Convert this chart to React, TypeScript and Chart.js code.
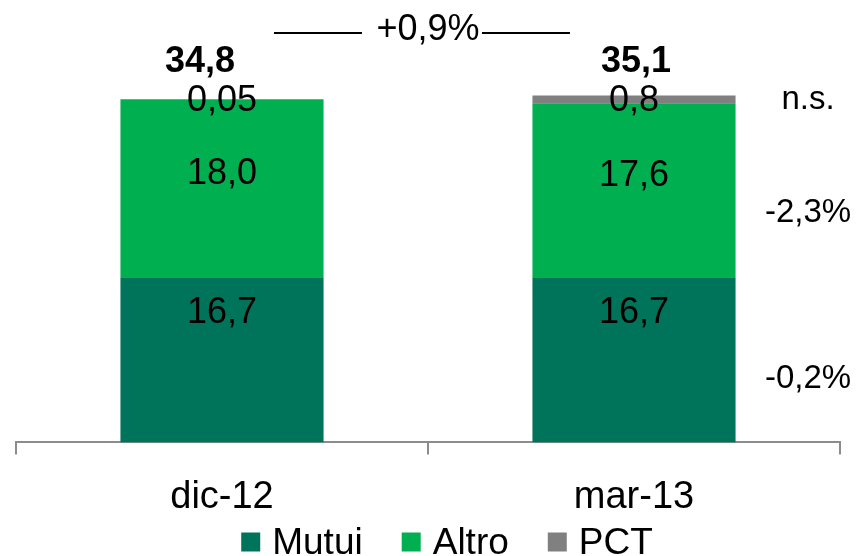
import React, { useEffect, useRef } from "react";
import { Chart, registerables } from "chart.js";

Chart.register(...registerables);

const categories = ["dic-12", "mar-13"];
const seriesNames = ["Mutui", "Altro", "PCT"];
const mutuiValues = [16.7, 16.7];
const altroValues = [18.0, 17.6];
const pctValues = [0.05, 0.8];
const totalLabels = ["34,8", "35,1"];
const changeLabels = ["-0,2%", "-2,3%", "n.s."];
const overallChange = "+0,9%";
const seriesColors = ["#00745A", "#00B050", "#808080"];

const FONT = "'Liberation Sans', Arial, sans-serif";
const valueOffsets = [-47, -14, 2];
const changeOffsets = [19, 23, 1];
const totalNudges = [-22, 2];

const fmt = (v: number) =>
  v.toLocaleString("it-IT", { minimumFractionDigits: 1, maximumFractionDigits: 2 });

const annotationPlugin = {
  id: "annotations",
  afterDatasetsDraw(chart: any) {
    const ctx = chart.ctx;
    const area = chart.chartArea;
    ctx.save();
    ctx.fillStyle = "#000";
    ctx.textAlign = "center";
    ctx.textBaseline = "middle";

    // segment values
    ctx.font = `36px ${FONT}`;
    chart.data.datasets.forEach((ds: any, di: number) => {
      const meta = chart.getDatasetMeta(di);
      meta.data.forEach((bar: any, i: number) => {
        const p = bar.getProps(["x", "y", "base"], true);
        const cy = (p.y + p.base) / 2 + valueOffsets[di];
        ctx.fillText(fmt(ds.data[i]), p.x, cy);
      });
    });

    // totals
    ctx.font = `bold 36px ${FONT}`;
    const firstMeta = chart.getDatasetMeta(0);
    firstMeta.data.forEach((bar: any, i: number) => {
      ctx.fillText(totalLabels[i], bar.x + totalNudges[i], area.top + 15);
    });

    // change labels at the right
    ctx.font = `33px ${FONT}`;
    const lastIndex = categories.length - 1;
    chart.data.datasets.forEach((_ds: any, di: number) => {
      const bar = chart.getDatasetMeta(di).data[lastIndex];
      const p = bar.getProps(["y", "base"], true);
      const cy = (p.y + p.base) / 2 + changeOffsets[di];
      ctx.fillText(changeLabels[di], area.right - 32, cy);
    });

    // overall change with lines
    ctx.font = `36px ${FONT}`;
    const b0 = firstMeta.data[0];
    const b1 = firstMeta.data[lastIndex];
    const cx = (b0.x + b1.x) / 2;
    const ty = area.top - 17;
    ctx.fillText(overallChange, cx, ty);
    ctx.strokeStyle = "#000";
    ctx.lineWidth = 2;
    ctx.beginPath();
    ctx.moveTo(cx - 154, ty + 3);
    ctx.lineTo(cx - 66, ty + 3);
    ctx.moveTo(cx + 54, ty + 3);
    ctx.lineTo(cx + 142, ty + 3);
    ctx.stroke();
    ctx.restore();
  },
  afterDraw(chart: any) {
    // legend
    const ctx = chart.ctx;
    ctx.save();
    ctx.font = `37px ${FONT}`;
    ctx.textBaseline = "middle";
    ctx.textAlign = "left";
    const box = 19;
    const gapText = 12;
    const gapItem = 39;
    const items = chart.data.datasets.map((ds: any) => ({
      label: ds.label,
      color: ds.backgroundColor,
      w: box + gapText + ctx.measureText(ds.label).width,
    }));
    const total = items.reduce((s: number, it: any) => s + it.w, 0) + gapItem * (items.length - 1);
    let x = chart.width / 2 - total / 2 + 17;
    const cy = 542;
    items.forEach((it: any) => {
      ctx.fillStyle = it.color;
      ctx.fillRect(x, cy - box / 2, box, box);
      ctx.fillStyle = "#000";
      ctx.fillText(it.label, x + box + gapText, cy + 2);
      x += it.w + gapItem;
    });
    ctx.restore();
  },
};

export default function App() {
  const ref = useRef<HTMLCanvasElement | null>(null);
  useEffect(() => {
    if (!ref.current) return;
    const chart = new Chart(ref.current, {
      type: "bar",
      data: {
        labels: categories,
        datasets: [
          { label: seriesNames[0], data: mutuiValues, backgroundColor: seriesColors[0] },
          { label: seriesNames[1], data: altroValues, backgroundColor: seriesColors[1] },
          { label: seriesNames[2], data: pctValues, backgroundColor: seriesColors[2] },
        ],
      },
      options: {
        animation: false,
        responsive: false,
        maintainAspectRatio: false,
        layout: { padding: { left: 16, right: 20, top: 47, bottom: 16 } },
        datasets: { bar: { barPercentage: 0.493, categoryPercentage: 1, borderWidth: 0 } },
        plugins: { legend: { display: false }, tooltip: { enabled: false } },
        scales: {
          x: {
            stacked: true,
            grid: {
              offset: true,
              drawOnChartArea: false,
              drawTicks: true,
              tickLength: 12,
              color: "#8C8C8C",
              lineWidth: 2,
            },
            border: { display: true, color: "#8C8C8C", width: 2 },
            ticks: { color: "#000", font: { size: 38, family: FONT }, padding: 20 },
          },
          y: { stacked: true, display: false, min: 0, max: 40 },
        },
      },
      plugins: [annotationPlugin],
    } as any);
    return () => chart.destroy();
  }, []);
  return (
    <div style={{ position: "absolute", left: 0, top: 0, width: 860, height: 556 }}>
      <canvas ref={ref} width={860} height={556} style={{ display: "block" }} />
    </div>
  );
}
